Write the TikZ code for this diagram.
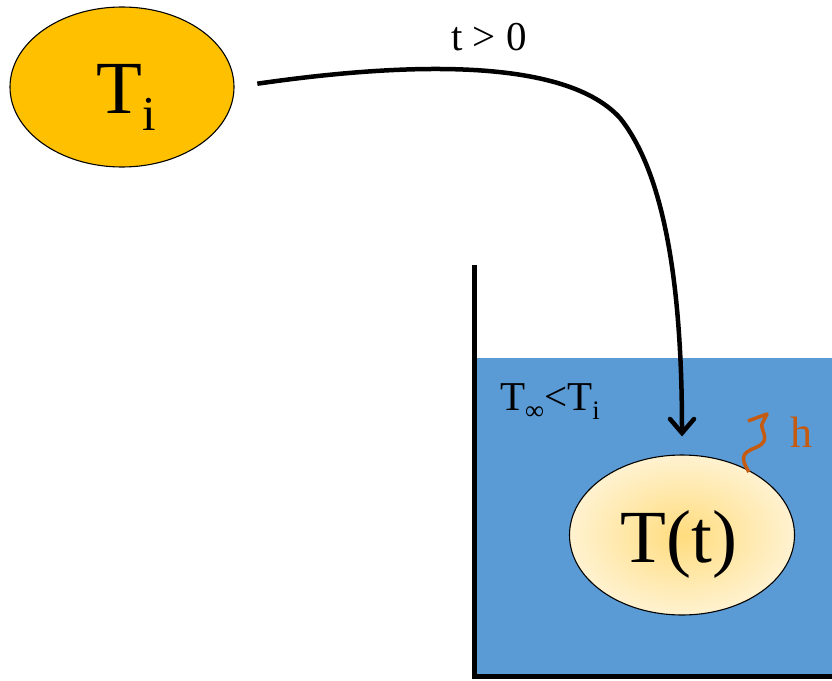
\documentclass[tikz,border=0pt]{standalone}
\usepackage{fontspec}
\setmainfont{Liberation Serif}
\usepackage{tikz}
\usetikzlibrary{shapes.geometric,arrows.meta}

\definecolor{hotball}{HTML}{FFC000}
\definecolor{water}{HTML}{5B9BD5}
\definecolor{heatflux}{HTML}{C55A11}
\definecolor{ballin}{HTML}{FFDC7E}
\definecolor{ballout}{HTML}{FFF2D0}

\newcommand{\lowidx}[1]{\raisebox{-0.23em}{\fontsize{0.65em}{1em}\selectfont #1}}

\begin{document}
\begin{tikzpicture}[x=1pt, y=-1pt]
        \useasboundingbox (0, 0) rectangle (832, 680);
        % water bath
        \fill[water] (476, 358) rectangle (832, 676);
        \draw[line width=5pt] (474, 265) -- (474, 676) -- (832, 676);
        % the body before and after
        \node[ellipse, draw, line width=1.1pt, fill=hotball,
          minimum width=224pt, minimum height=160pt, inner sep=0pt]
          (Ti) at (122, 87) {};
        \node[anchor=base, font=\fontsize{75}{80}\selectfont] (TiText)
          at (126, 113) {T\lowidx{i}};
        \node[ellipse, draw, line width=1.1pt, inner color=ballin,
          outer color=ballout, minimum width=225pt, minimum height=160pt,
          inner sep=0pt] (Tt) at (682, 535) {};
        \node[anchor=base, font=\fontsize{75}{80}\selectfont] (TtText)
          at (679, 562) {T(t)};
        % labels
        \node[anchor=base, font=\fontsize{41}{44}\selectfont] (tpos)
          at (489, 50) {t > 0};
        \node[anchor=base, font=\fontsize{41}{44}\selectfont] (Tinf)
          at (550, 410) {T\lowidx{∞}<T\lowidx{i}};
        \node[anchor=base, text=heatflux, font=\fontsize{44}{48}\selectfont]
          (hcoef) at (801, 447) {h};
        % dropping the body in
        \draw[line width=4.5pt, shorten <=23pt, shorten >=18pt,
          -{Straight Barb[length=14pt, width=24pt, line cap=round]}]
          (Ti.east) .. controls (380, 66) and (560, 52) .. (620, 118)
          .. controls (668, 178) and (682, 300) .. (Tt.north);
        % convection
        \draw[heatflux, line width=3.5pt, line join=round]
          (749, 472) .. controls (738, 455) and (745, 452) .. (757, 447)
          .. controls (772, 440) and (760, 430) .. (762, 424)
          -- (767, 414) -- (748, 421);
\end{tikzpicture}
\end{document}
